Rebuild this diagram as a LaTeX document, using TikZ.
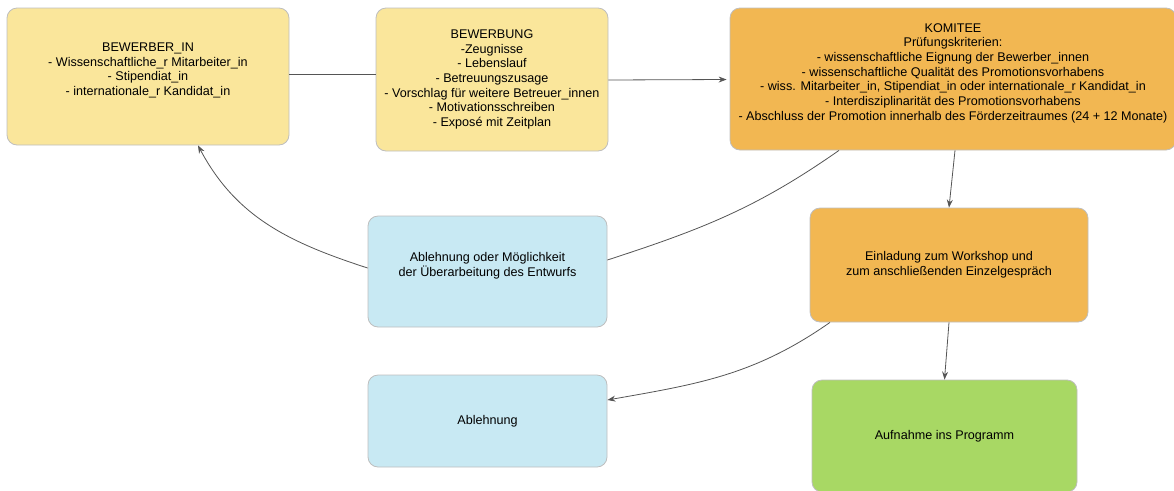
\documentclass[tikz,border=0pt]{standalone}
\usepackage{fontspec}
\setmainfont{Liberation Sans}
\usetikzlibrary{arrows.meta,calc}
\definecolor{boxyellow}{RGB}{250,230,155}
\definecolor{boxorange}{RGB}{242,183,82}
\definecolor{boxblue}{RGB}{200,233,243}
\definecolor{boxgreen}{RGB}{168,216,100}
\definecolor{boxline}{RGB}{190,190,190}
\definecolor{linkgray}{RGB}{85,85,85}
\begin{document}
\begin{tikzpicture}[x=0.75pt,y=0.75pt,
  stepbox/.style={draw=boxline,line width=0.6pt,rounded corners=7.5pt,align=center,
    font=\fontsize{9.45}{11}\selectfont,inner sep=2pt},
  boxsize/.style 2 args={minimum width=#1*0.75pt,minimum height=#2*0.75pt},
  link/.style={draw=linkgray,line width=0.6pt},
  arrow/.style={link,-{Stealth[length=6pt,width=4.5pt]}}]

 \useasboundingbox (0,0) rectangle (1174,-490);

 \node[stepbox,fill=boxyellow,boxsize={282}{137}] (bewerber) at (148,-76.5)
   {BEWERBER\_IN\\- Wissenschaftliche\_r Mitarbeiter\_in\\- Stipendiat\_in\\- internationale\_r Kandidat\_in\\~};
 \node[stepbox,fill=boxyellow,boxsize={232}{143}] (bewerbung) at (492,-79.5)
   {BEWERBUNG\\-Zeugnisse\\- Lebenslauf\\- Betreuungszusage\\- Vorschlag für weitere Betreuer\_innen\\- Motivationsschreiben\\- Exposé mit Zeitplan};
 \node[stepbox,fill=boxorange,boxsize={446}{142}] (komitee) at (953,-79)
   {KOMITEE\\Prüfungskriterien:\\- wissenschaftliche Eignung der Bewerber\_innen\\- wissenschaftliche Qualität des Promotionsvorhabens\\- wiss. Mitarbeiter\_in, Stipendiat\_in oder internationale\_r Kandidat\_in\\- Interdisziplinarität des Promotionsvorhabens\\- Abschluss der Promotion innerhalb des Förderzeitraumes (24 + 12 Monate)\\~};
 \node[stepbox,fill=boxblue,boxsize={239}{111}] (pruefung) at (487.5,-271.5)
   {Ablehnung oder Möglichkeit\\der Überarbeitung des Entwurfs\\~};
 \node[stepbox,fill=boxorange,boxsize={278}{114}] (einladung) at (949,-265)
   {Einladung zum Workshop und\\zum anschließenden Einzelgespräch};
 \node[stepbox,fill=boxblue,boxsize={239}{92}] (ablehnung) at (487.5,-421)
   {Ablehnung};
 \node[stepbox,fill=boxgreen,boxsize={265}{112}] (aufnahme) at (944.5,-436)
   {Aufnahme ins Programm};

 \draw[link] ($(bewerber.east)+(0,2.5)$) -- ($(bewerbung.west)+(0,5.5)$);
 \draw[arrow] ($(bewerbung.east)+(0,-0.5)$) -- ($(komitee.west)+(-3,-0.5)$);
 \draw[link] ($(komitee.south)+(-114,0)$) to[out=215,in=18] ($(pruefung.east)+(0,11.5)$);
 \draw[arrow] ($(pruefung.west)+(0,3.5)$) to[out=162,in=-62] ($(bewerber.south)+(50,0)$);
 \draw[arrow] ($(komitee.south)+(2,0)$) -- (einladung.north);
 \draw[arrow] (einladung.south) -- (aufnahme.north);
 \draw[arrow] ($(einladung.south)+(-119,0)$) to[out=215,in=10] ($(ablehnung.east)+(0,21)$);
\end{tikzpicture}
\end{document}
